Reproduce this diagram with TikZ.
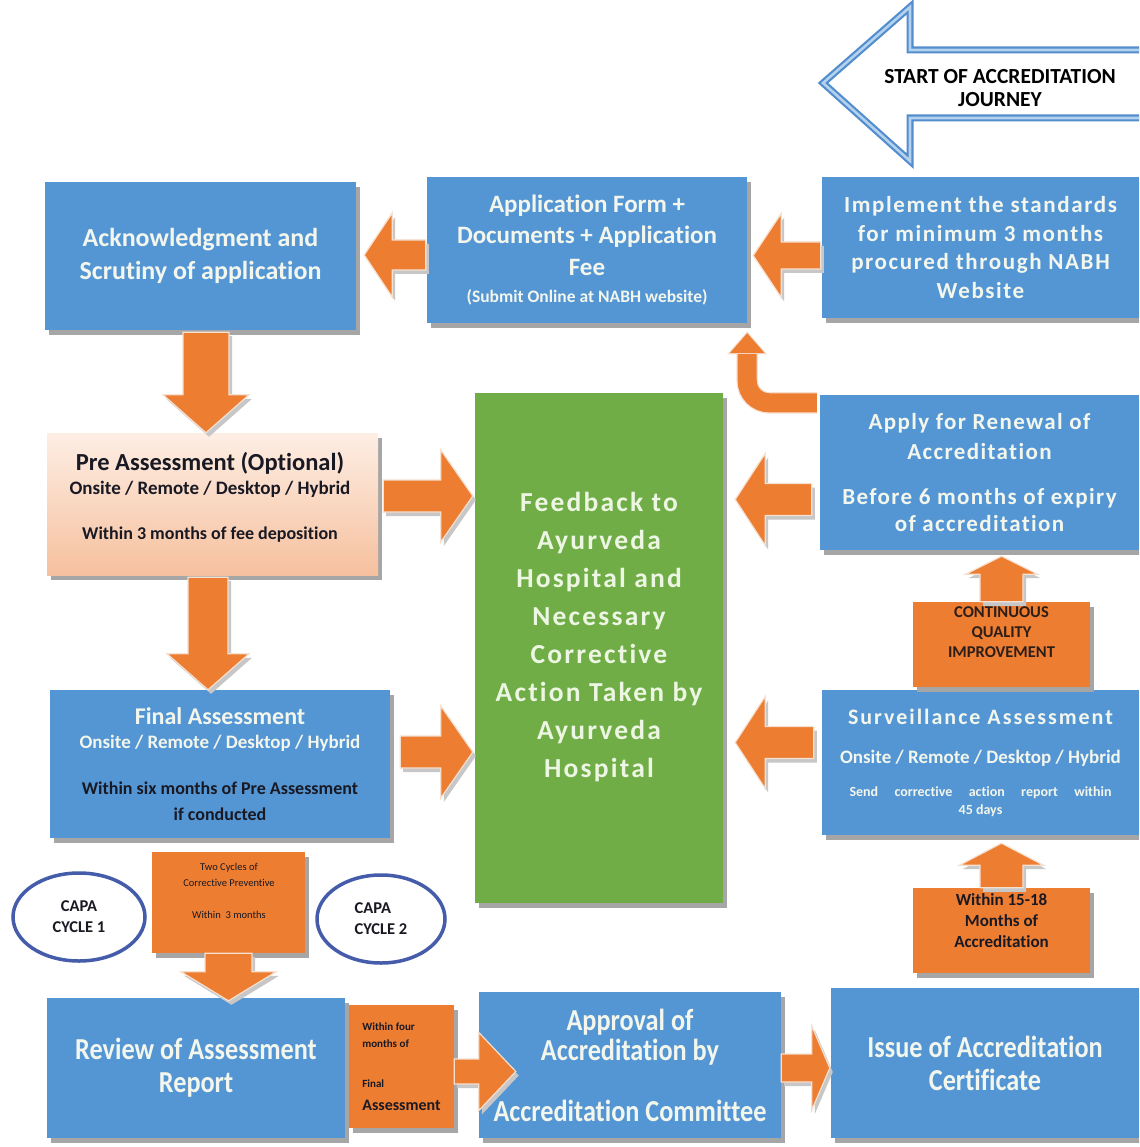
\documentclass[tikz,border=0pt]{standalone}
\usepackage{fontspec}
\setmainfont{Carlito}[Ligatures=NoCommon]
\newfontfamily\condfont{Carlito}[FakeStretch=0.86,Ligatures=NoCommon]
\usetikzlibrary{calc,shadows,shapes.geometric}
\definecolor{boxblue}{RGB}{84,150,212}
\definecolor{orangeC}{RGB}{237,125,49}
\definecolor{greenC}{RGB}{112,173,71}
\definecolor{lighttxt}{RGB}{243,246,236}
\definecolor{greentxt}{RGB}{236,246,226}
\definecolor{darktxt}{RGB}{25,25,35}
\definecolor{cqitxt}{RGB}{45,30,25}
\definecolor{ellblue}{RGB}{68,92,170}
\definecolor{startblue}{RGB}{83,141,206}
\definecolor{startlight}{RGB}{178,210,238}
\definecolor{peachtop}{RGB}{253,238,228}
\definecolor{peachbot}{RGB}{246,192,158}
\definecolor{arrowedge}{RGB}{246,224,208}
\newcommand\myfs[2]{\fontsize{#1}{#2}\selectfont}
\tikzset{
  shadowed/.style={drop shadow={shadow xshift=4pt,shadow yshift=-5pt,fill=black!35,opacity=1}},
  basebox/.style={rectangle, inner sep=0pt, align=center, shadowed},
  bluebox/.style={basebox, fill=boxblue, text=lighttxt, font=\bfseries\myfs{26}{33}},
  calloutbox/.style={basebox, fill=orangeC},
  calltext/.style={inner sep=0pt, align=center, text=darktxt, font=\bfseries},
  orarrow/.style={fill=orangeC, draw=arrowedge, line width=1.2pt, line join=miter},
  blk/.style n args={3}{to path={let \p1=($(\tikztotarget)!#3!(\tikztostart)$) in
      ($(\tikztostart)!#1!90:(\tikztotarget)$) -- ($(\p1)!#1!90:(\tikztotarget)$) --
      ($(\p1)!#2!90:(\tikztotarget)$) -- (\tikztotarget) --
      ($(\p1)!#2!-90:(\tikztotarget)$) -- ($(\p1)!#1!-90:(\tikztotarget)$) --
      ($(\tikztostart)!#1!-90:(\tikztotarget)$) -- cycle}},
  ell/.style={ellipse, draw=ellblue, line width=3.5pt, inner sep=0pt, text=darktxt, font=\bfseries\myfs{16.5}{21}},
}
\newcommand\myarrow[3]{%
  \draw[blk=#1, fill=black!22, draw=none, transform canvas={shift={(3pt,-4pt)}}] (#2) to (#3);
  \draw[orarrow, blk=#1] (#2) to (#3);}

\begin{document}
\begin{tikzpicture}[x=1pt,y=-1pt]
\useasboundingbox (0,0) rectangle (1139,1147);
\fill[white] (0,0) rectangle (1139,1147);
\clip (0,0) rectangle (1139,1147);

% start arrow
\draw[draw=startblue, line width=2.2pt, double=startlight, double distance=2.6pt, line join=miter, fill=white]
  (1150,50) -- (910,50) -- (910,7) -- (823,83) -- (910,161) -- (910,118) -- (1150,118);
\node[inner sep=0pt, font=\bfseries\myfs{21.5}{23}, align=center, text=black] (start) at (1000,88.5) {START OF ACCREDITATION\\JOURNEY};

% top row
\node[bluebox, minimum width=311pt, minimum height=148pt] (ack) at (200.5,256) {Acknowledgment and\\Scrutiny of application};
\node[bluebox, minimum width=320pt, minimum height=146pt, font=\bfseries\myfs{25}{31.5}] (app) at (587,250)
  {Application Form +\\Documents + Application\\Fee\\[-4.5pt]{\myfs{17.5}{20}(Submit Online at NABH website)}};
\node[bluebox, minimum width=317pt, minimum height=141pt, font=\bfseries\addfontfeatures{LetterSpace=7}\myfs{23}{28.5}] (impl) at (980.5,247.5)
  {Implement the standards\\for minimum 3 months\\procured through NABH\\Website};

% middle
\node[bluebox, minimum width=319pt, minimum height=155pt, font=\bfseries\addfontfeatures{LetterSpace=6}\myfs{23}{30}] (renew) at (979.5,472.5)
  {Apply for Renewal of\\Accreditation\\[15pt]Before 6 months of expiry\\[-3pt]of accreditation};
\node[basebox, fill=greenC, minimum width=248pt, minimum height=510pt] (green) at (599,648) {};
\node[inner sep=0pt, align=center, text=greentxt, font=\bfseries\addfontfeatures{LetterSpace=8}\myfs{27.5}{38}] (greenT) at (599,637)
  {Feedback to\\Ayurveda\\Hospital and\\Necessary\\Corrective\\Action Taken by\\Ayurveda\\Hospital};
\node[basebox, top color=peachtop, bottom color=peachbot, minimum width=331pt, minimum height=142pt] (pre) at (212.5,504) {};
\node[inner sep=0pt, align=center, text=darktxt, font=\bfseries\myfs{24.5}{24}] (preT) at (210,497)
  {Pre Assessment (Optional)\\{\myfs{19}{24}Onsite / Remote / Desktop / Hybrid}\\[21pt]{\myfs{18}{24}Within 3 months of fee deposition}};
\node[bluebox, minimum width=340pt, minimum height=148pt, font=\bfseries\myfs{24}{24}] (final) at (220,764)
  {Final Assessment\\{\myfs{19}{24}Onsite / Remote / Desktop / Hybrid}\\[22pt]{\color{darktxt}\myfs{18}{24}Within six months of Pre Assessment}\\[2pt]{\color{darktxt}\myfs{18}{24}if conducted}};
\node[bluebox, minimum width=317pt, minimum height=145pt, font=\bfseries\myfs{22}{39}] (surv) at (980.5,762.5)
  {{\addfontfeatures{LetterSpace=9}Surveillance Assessment}\\{\myfs{19}{39}Onsite / Remote / Desktop / Hybrid}\\[-6pt]{\myfs{14}{17}\makebox[262pt][s]{Send corrective action report within}}\\[-21pt]{\myfs{14}{17}45 days}};

% callouts
\node[calloutbox, minimum width=177pt, minimum height=85pt] (cqi) at (1001.5,644.5) {};
\node[calltext, font=\bfseries\myfs{16.5}{20}, text=cqitxt] (cqiT) at (1001.5,632) {CONTINUOUS\\QUALITY\\IMPROVEMENT};
\node[calloutbox, minimum width=177pt, minimum height=85pt] (w1518) at (1001.5,930.5) {};
\node[calltext, font=\bfseries\myfs{17}{21}] (w1518T) at (1001.5,921) {Within 15-18\\Months of\\Accreditation};
\node[calloutbox, minimum width=153pt, minimum height=101pt] (capa) at (228.5,902.5) {};
\node[calltext, font=\myfs{10.5}{16}] (capaT) at (229,891) {Two Cycles of\\Corrective Preventive\\[16pt]Within \ 3 months};

% ellipses
\node[ell, minimum width=132pt, minimum height=88pt, align=center] (cyc1) at (79,917) {CAPA\\CYCLE 1};
\node[ell, minimum width=128pt, minimum height=88pt, align=left] (cyc2) at (381,919) {CAPA\\CYCLE 2};

% bottom row
\node[bluebox, minimum width=298pt, minimum height=140pt, font=\condfont\bfseries\myfs{30.5}{33}] (review) at (196,1068) {Review of Assessment\\Report};
\node[bluebox, minimum width=302pt, minimum height=146pt, font=\condfont\bfseries\myfs{30.5}{30}] (approval) at (630,1065) {Approval of\\Accreditation by\\[31pt]Accreditation Committee};
\node[bluebox, minimum width=308pt, minimum height=150pt, font=\condfont\bfseries\myfs{30.5}{33}] (issue) at (985,1063) {Issue of Accreditation\\Certificate};
\node[calloutbox, minimum width=105pt, minimum height=123pt, align=left, text=darktxt, font=\bfseries\myfs{11}{17}] (w4) at (401.5,1066.5)
  {Within four\\months of\\[23pt]Final\\[6pt]{\myfs{16}{20}Assessment}};

% connectors
\coordinate (ci1) at ($(impl.west)+(-1,8)$);
\coordinate (ci2) at ($(ci1 -| app.east)+(6,0)$);
\myarrow{{13.5pt}{42pt}{28pt}}{ci1}{ci2}
\coordinate (ca1) at ($(app.west)+(-1,5)$);
\coordinate (ca2) at ($(ca1 -| ack.east)+(8,0)$);
\myarrow{{15pt}{42pt}{28pt}}{ca1}{ca2}
\coordinate (ck1) at ($(ack.south)+(5.5,2)$);
\coordinate (ck2) at (ck1 |- pre.north);
\myarrow{{23pt}{43pt}{38pt}}{ck1}{ck2}
\coordinate (cp1) at ($(pre.south)+(-4.5,2)$);
\coordinate (cp2) at (cp1 |- final.north);
\myarrow{{20pt}{41pt}{36pt}}{cp1}{cp2}
\coordinate (cg1) at ($(pre.east)+(5,-8)$);
\coordinate (cg2) at ($(cg1 -| green.west)+(-2,0)$);
\myarrow{{16pt}{46pt}{32pt}}{cg1}{cg2}
\coordinate (cf1) at ($(final.east)+(10,-12)$);
\coordinate (cf2) at ($(cf1 -| green.west)+(-2,0)$);
\myarrow{{16pt}{46pt}{32pt}}{cf1}{cf2}
\coordinate (cr1) at ($(renew.west)+(-8,27)$);
\coordinate (cr2) at ($(cr1 -| green.east)+(12,0)$);
\myarrow{{16pt}{46pt}{30pt}}{cr1}{cr2}
\coordinate (cs1) at ($(surv.west)+(-8,-20)$);
\coordinate (cs2) at ($(cs1 -| green.east)+(12,0)$);
\myarrow{{16pt}{46pt}{30pt}}{cs1}{cs2}
\coordinate (cq1) at (cqi.north);
\coordinate (cq2) at ($(cq1 |- renew.south)+(0,6)$);
\myarrow{{21.5pt}{36pt}{18pt}}{cq1}{cq2}
\coordinate (cw1) at (w1518.north);
\coordinate (cw2) at ($(cw1 |- surv.south)+(0,8)$);
\myarrow{{21.5pt}{42pt}{22pt}}{cw1}{cw2}
\coordinate (cd1) at (capa.south);
\coordinate (cd2) at ($(cd1 |- review.north)+(0,3)$);
\myarrow{{23.5pt}{47.5pt}{29pt}}{cd1}{cd2}
\coordinate (cv1) at ($(w4.east)+(0,5)$);
\coordinate (cv2) at ($(cv1 -| approval.west)+(37,0)$);
\myarrow{{12.5pt}{39pt}{37pt}}{cv1}{cv2}
\coordinate (ce1) at ($(approval.east)+(0,3)$);
\coordinate (ce2) at ($(ce1 -| issue.west)+(-1,0)$);
\myarrow{{14pt}{42pt}{18pt}}{ce1}{ce2}

% curved arrow renewal -> application
\coordinate (cc1) at ($(renew.north west)+(-3,8)$);
\coordinate (cc2) at ($(app.south east)+(0,10)$);
\coordinate (cc3) at ($(cc2)+(0,21)$);
\draw[arrowedge, line width=21.5pt, rounded corners=22pt] (cc1) -| (cc3);
\draw[arrowedge, line width=2.4pt, fill=arrowedge, line join=miter] (cc2) -- ++(-17.5,20) -- ++(35,0) -- cycle;
\draw[orangeC, line width=19pt, rounded corners=22pt] (cc1) -| (cc3);
\fill[orangeC] (cc2) -- ++(-17.5,20) -- ++(35,0) -- cycle;
\end{tikzpicture}
\end{document}
